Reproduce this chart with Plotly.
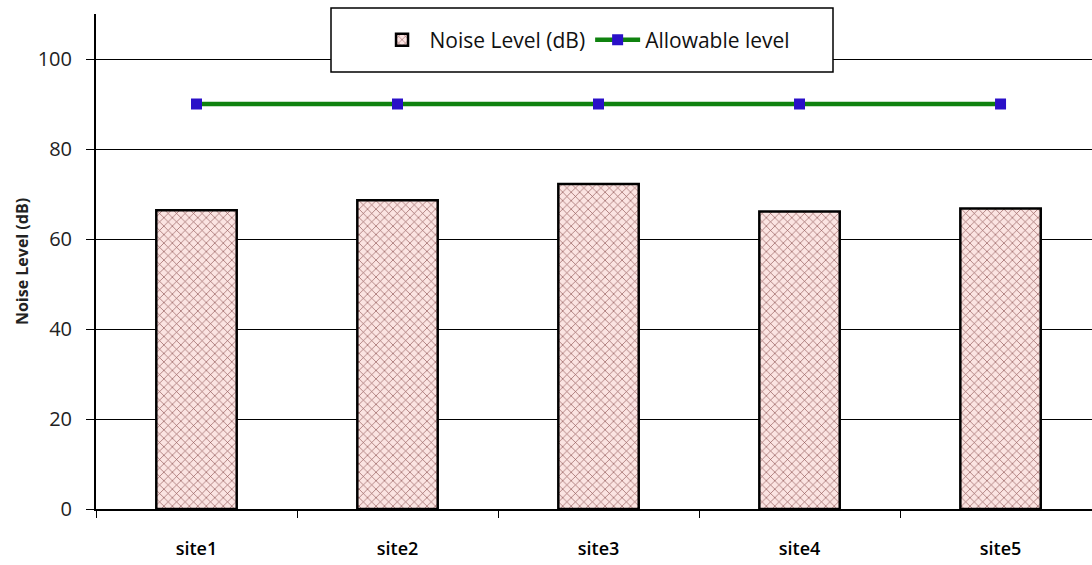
import plotly.graph_objects as go

sites = ["site1", "site2", "site3", "site4", "site5"]
noise_level = [66.4, 68.6, 72.2, 66.1, 66.8]
allowable_level = [90, 90, 90, 90, 90]
y_ticks = [0, 20, 40, 60, 80, 100]

FONT = "'Open Sans', sans-serif"

fig = go.Figure()
fig.add_trace(go.Bar(
    x=sites, y=noise_level, name="Noise Level (dB)",
    width=0.4,
    marker=dict(
        color="#fbe4e2",
        line=dict(color="black", width=2.5),
        pattern=dict(shape="x", size=6, solidity=0.2, fgcolor="#8a5050", bgcolor="#fbe4e2", fillmode="replace"),
    ),
))
fig.add_trace(go.Scatter(
    x=sites, y=allowable_level, name="Allowable level",
    mode="lines+markers",
    line=dict(color="#0f820f", width=4.5),
    marker=dict(symbol="square", size=11, color="#2a10c8", line=dict(color="#2a10c8", width=0)),
))

fig.update_layout(
    width=1092, height=565,
    margin=dict(l=96, r=0, t=14, b=56),
    paper_bgcolor="white", plot_bgcolor="white",
    font=dict(family=FONT, size=15, color="#222"),
    showlegend=True,
    legend=dict(
        orientation="h", x=0.491, xanchor="center", y=(509 - 40) / 495, yanchor="middle",
        bgcolor="rgba(0,0,0,0)", borderwidth=0,
        font=dict(family=FONT, size=21, color="#111"),
        itemwidth=45, traceorder="normal",
    ),
    shapes=[dict(
        type="rect", xref="paper", yref="paper",
        x0=(331 - 96) / 996, x1=(833 - 96) / 996,
        y0=(509 - 72) / 495, y1=(509 - 8) / 495,
        fillcolor="white", line=dict(color="black", width=1.5), layer="above",
    )],
    bargap=0.6,
)
fig.update_xaxes(
    type="category", range=[-0.5, 4.455],
    showline=True, linecolor="black", linewidth=2,
    ticks="outside", tickson="boundaries", ticklen=7, tickcolor="black", tickwidth=1,
    showgrid=False,
    ticklabelstandoff=22,
    tickfont=dict(family=FONT, size=18, color="#000", weight=600),
)
fig.update_yaxes(
    range=[0, 110], tickvals=y_ticks,
    showline=True, linecolor="black", linewidth=2,
    ticks="outside", ticklen=8, tickcolor="black",
    showgrid=True, gridcolor="black", gridwidth=1,
    zeroline=False,
    ticklabelstandoff=10,
    tickfont=dict(family=FONT, size=20, color="#222"),
    title=dict(text="Noise Level (dB)", font=dict(family=FONT, size=16, color="#222", weight="bold"), standoff=5),
)

fig.write_html("out.html")
